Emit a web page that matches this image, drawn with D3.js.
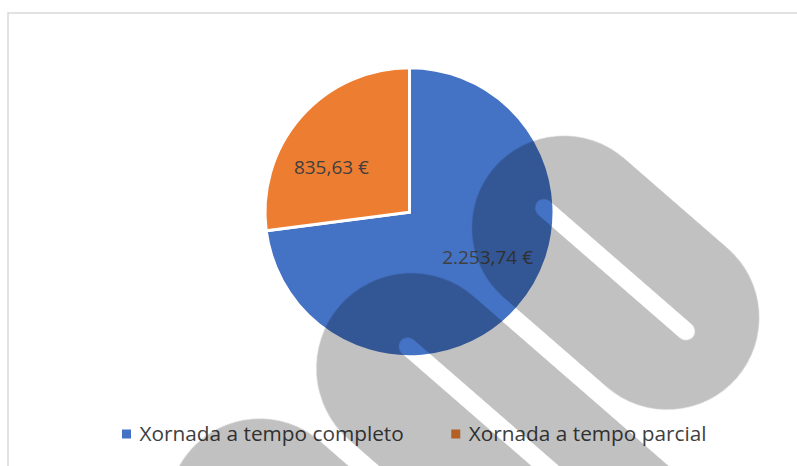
<!DOCTYPE html>
<html lang="gl">
    <head>
        <meta charset="utf-8">
        <title>Xornada</title>
        <script type="text/javascript" src="https://cdn.jsdelivr.net/npm/d3@7"></script>
        <style type="text/css">
            body { margin: 0; background: #fff; }
            text { font-family: "Open Sans", sans-serif; fill: #404040; }
        </style>
    </head>
    <body>
        <script type="text/javascript">
            var w = 797;
            var h = 466;

            //Data
            var categories = ["Xornada a tempo completo", "Xornada a tempo parcial"];
            var values = [2253.74, 835.63];
            var colors = ["#4472C4", "#ED7D31"];

            // grey logo stamped over the picture (u along the stroke, v across it)
            var watermarkBands = [
                {u1: 575, u2: 712,  v: -198, r: 92, su1: 547, su2: 735,  sv: -200, sr: 9},
                {u1: 552, u2: 1400, v: 8,    r: 95, su1: 535, su2: 1400, sv: -6,   sr: 9},
                {u1: 531, u2: 1400, v: 215,  r: 92, su1: 515, su2: 1400, sv: 215,  sr: 9}
            ];

            var euro = d3.formatLocale({decimal: ",", thousands: ".", grouping: [3], currency: ["", " €"]}).format("$,.2f");

            var svg = d3.select("body")
                .append("svg")
                .attr("width", w)
                .attr("height", h);

            svg.append("defs").append("filter")
                .attr("id", "soft")
                .append("feGaussianBlur")
                .attr("stdDeviation", 0.7);

            // chart frame, cut by the picture edge on the right and bottom
            svg.append("rect")
                .attr("x", 8)
                .attr("y", 13)
                .attr("width", 820)
                .attr("height", 500)
                .attr("fill", "#fff")
                .attr("stroke", "#d9d9d9")
                .attr("stroke-width", 1.5);

            var cx = 409.5, cy = 212.2, radius = 144.5;

            var pie = d3.pie().sort(null).value(function(d) { return d; });
            var arc = d3.arc().innerRadius(0).outerRadius(radius);
            var slices = pie(values);

            var g = svg.append("g")
                .attr("transform", "translate(" + cx + "," + cy + ")");

            g.selectAll("path")
                .data(slices)
                .enter()
                .append("path")
                .attr("d", arc)
                .attr("fill", function(d, i) { return colors[i]; })
                .attr("stroke", "#fff")
                .attr("stroke-width", 3);

            // labels sit a bit before the middle of each slice, like Excel's best fit
            var labelR = 90, labelShift = -11.5 * Math.PI / 180;
            g.selectAll("text")
                .data(slices)
                .enter()
                .append("text")
                .attr("x", function(d) { return Math.sin((d.startAngle + d.endAngle) / 2 + labelShift) * labelR; })
                .attr("y", function(d) { return -Math.cos((d.startAngle + d.endAngle) / 2 + labelShift) * labelR; })
                .attr("dy", "0.35em")
                .attr("text-anchor", "middle")
                .attr("font-size", "19px")
                .text(function(d) { return euro(d.value); });

            // legend
            var lx = 122;
            categories.forEach(function(c, i) {
                svg.append("rect")
                    .attr("x", lx)
                    .attr("y", 429.5)
                    .attr("width", 9)
                    .attr("height", 9)
                    .attr("fill", colors[i]);
                var t = svg.append("text")
                    .attr("x", lx + 17.5)
                    .attr("y", 441)
                    .attr("font-size", "20.8px")
                    .text(c);
                lx += 17.5 + t.node().getComputedTextLength() + 47.5;
            });

            function capsule(u1, u2, v, r) {
                return "M" + u1 + "," + (v - r) + "L" + u2 + "," + (v - r) +
                    "A" + r + "," + r + " 0 0 1 " + u2 + "," + (v + r) +
                    "L" + u1 + "," + (v + r) +
                    "A" + r + "," + r + " 0 0 1 " + u1 + "," + (v - r) + "Z";
            }

            svg.append("g")
                .attr("transform", "rotate(41)")
                .attr("filter", "url(#soft)")
                .selectAll("path")
                .data(watermarkBands)
                .enter()
                .append("path")
                .attr("d", function(b) { return capsule(b.u1, b.u2, b.v, b.r) + capsule(b.su1, b.su2, b.sv, b.sr); })
                .attr("fill-rule", "evenodd")
                .attr("fill", "#000")
                .attr("fill-opacity", 0.245);
        </script>
    </body>
</html>
